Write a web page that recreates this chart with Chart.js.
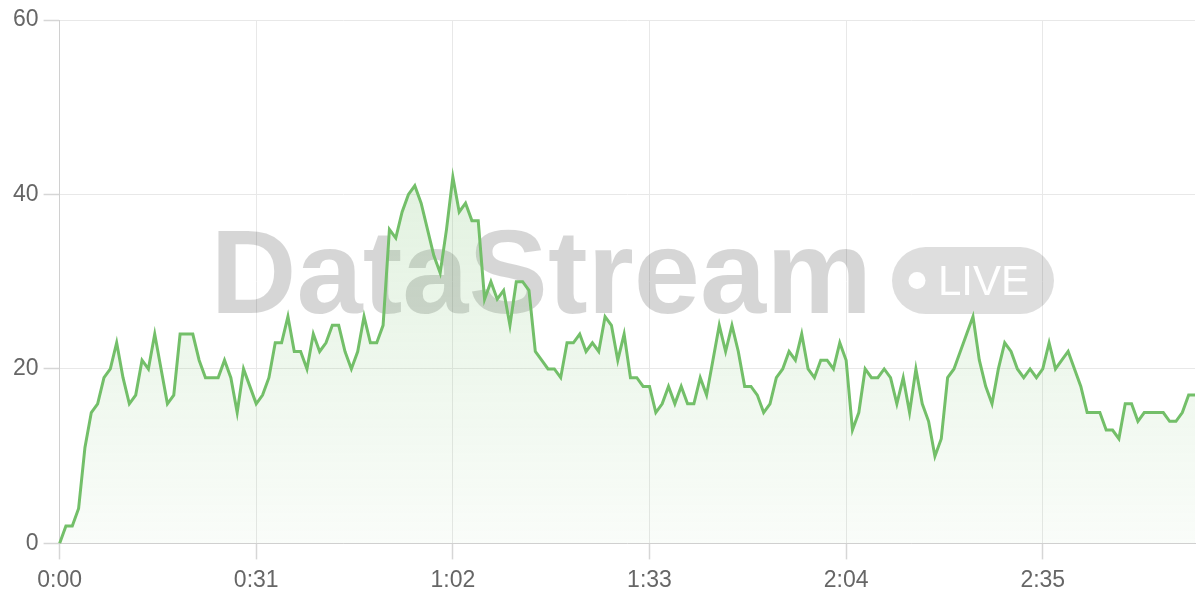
<!DOCTYPE html>
<html><head><meta charset="utf-8">
<script src="https://cdn.jsdelivr.net/npm/chart.js@4/dist/chart.umd.min.js"></script>
<style>html,body{margin:0;padding:0;background:#fff}#wrap{width:1200px;height:600px}</style>
</head><body><div id="wrap"><canvas id="c" width="1200" height="600"></canvas></div>
<script>
// Values per second (0:00 .. 2:59)
const values = [
  0,2,2,4,11,15,16,19,20,23,19,16,17,21,20,24,20,16,17,24,24,24,21,19,19,19,21,19,15,20,18,16,
  17,19,23,23,26,22,22,20,24,22,23,25,25,22,20,22,26,23,23,25,36,35,38,40,41,39,36,33,31,36,42,
  38,39,37,37,28,30,28,29,25,30,30,29,22,21,20,20,19,23,23,24,22,23,22,26,25,21,24,19,19,18,18,15,
  16,18,16,18,16,16,19,17,21,25,22,25,22,18,18,17,15,16,19,20,22,21,24,20,19,21,21,20,23,21,13,15,
  20,19,19,20,19,16,19,15,20,16,14,10,12,19,20,22,24,26,21,18,16,20,23,22,20,19,20,19,20,23,20,
  21,22,20,18,15,15,15,13,13,12,16,16,14,15,15,15,15,14,14,15,17,17
];
const tickLabels = ['0:00','0:31','1:02','1:33','2:04','2:35'];
const tickEvery = 31;
const yTicks = [0,20,40,60];
const seconds = values.map((_, i) => i);

const watermark = {
  id: 'wm',
  beforeDatasetsDraw(chart) {
    const {ctx, chartArea: a} = chart;
    ctx.save();
    const text = 'DataStream';
    ctx.font = 'bold 119px "Liberation Sans", Arial, sans-serif';
    const tw = ctx.measureText(text).width;
    const pillW = 162, pillH = 67, gap = 20;
    const total = tw + gap + pillW;
    const cx = (a.left + a.right) / 2 + 5;
    const x0 = cx - total / 2;
    const baseY = a.top + (a.bottom - a.top) * 0.560;
    ctx.fillStyle = 'rgba(0,0,0,0.16)';
    ctx.textBaseline = 'alphabetic';
    ctx.textAlign = 'left';
    ctx.fillText(text, x0, baseY);
    const px = x0 + tw + gap, py = baseY - 66;
    ctx.fillStyle = 'rgba(0,0,0,0.13)';
    ctx.beginPath();
    ctx.roundRect(px, py, pillW, pillH, pillH / 2);
    ctx.fill();
    ctx.fillStyle = '#ffffff';
    ctx.beginPath();
    ctx.arc(px + 25, py + pillH / 2, 8.5, 0, Math.PI * 2);
    ctx.fill();
    ctx.font = '42px "Liberation Sans", Arial, sans-serif';
    ctx.fillText('LIVE', px + 46, py + 48);
    ctx.restore();
  }
};

new Chart(document.getElementById('c'), {
  type: 'line',
  data: {
    labels: seconds,
    datasets: [{
      data: values,
      borderColor: '#73BF69',
      borderWidth: 3,
      pointRadius: 0,
      pointHoverRadius: 0,
      tension: 0,
      fill: 'origin',
      backgroundColor: (c) => {
        const a = c.chart.chartArea;
        if (!a) return 'rgba(115,191,105,0.1)';
        const g = c.chart.ctx.createLinearGradient(0, a.top, 0, a.bottom);
        g.addColorStop(0, 'rgba(115,191,105,0.28)');
        g.addColorStop(1, 'rgba(115,191,105,0.04)');
        return g;
      }
    }]
  },
  options: {
    responsive: false,
    animation: false,
    layout: { padding: { left: 8, right: 5, top: 20, bottom: -1 } },
    plugins: { legend: { display: false }, tooltip: { enabled: false } },
    scales: {
      x: {
        grid: { color: '#e8e8e8', lineWidth: 1, drawTicks: true, tickLength: 16, tickColor: '#d6d6d6', tickWidth: 1.5 },
        border: { color: '#d0d0d0' },
        ticks: {
          autoSkip: false,
          maxRotation: 0,
          padding: 7,
          color: '#666',
          font: { family: '"Liberation Sans", Arial, sans-serif', size: 23 },
          callback: (v, i) => (i % tickEvery === 0 ? tickLabels[i / tickEvery] : null)
        }
      },
      y: {
        min: yTicks[0],
        max: yTicks[yTicks.length - 1],
        grid: { color: '#e8e8e8', lineWidth: 1, drawTicks: true, tickLength: 16, tickColor: '#d6d6d6', tickWidth: 1.5 },
        border: { color: '#d0d0d0' },
        afterBuildTicks: (s) => { s.ticks = yTicks.map(v => ({ value: v })); },
        ticks: {
          padding: 5,
          color: '#666',
          font: { family: '"Liberation Sans", Arial, sans-serif', size: 23 }
        }
      }
    }
  },
  plugins: [watermark]
});
</script>
</body></html>
